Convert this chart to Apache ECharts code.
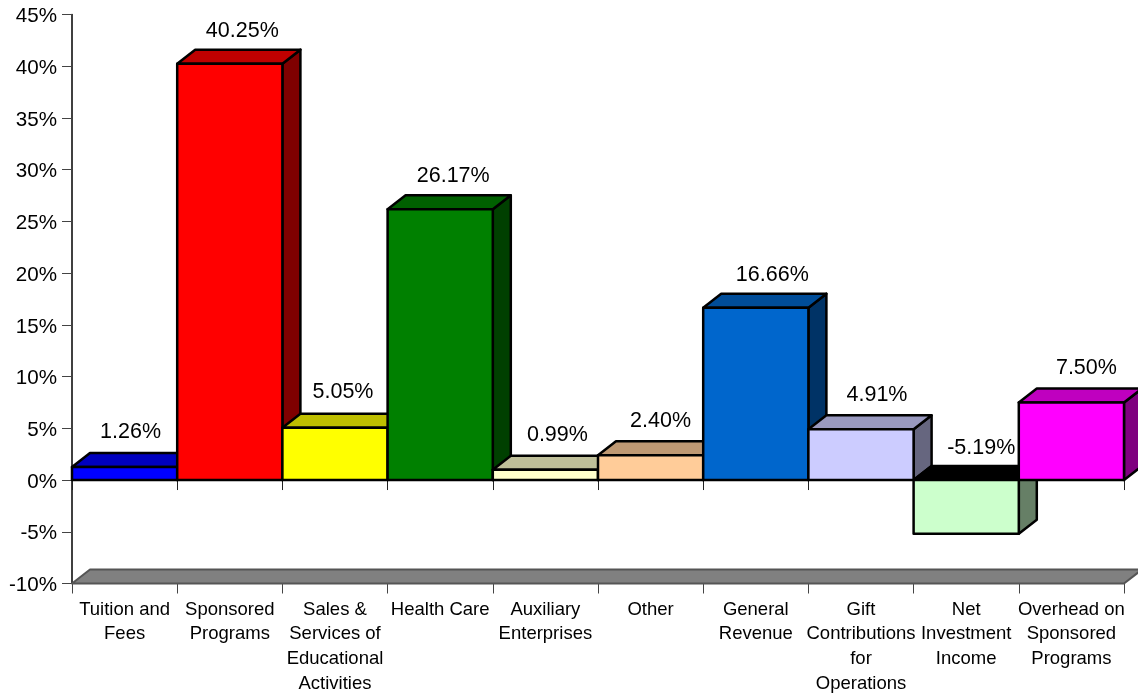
<!DOCTYPE html>
<html><head><meta charset="utf-8">
<style>html,body{margin:0;padding:0;background:#fff}#c{width:1138px;height:693px}</style>
<script src="https://cdn.jsdelivr.net/npm/echarts@6/dist/echarts.min.js"></script>
</head><body><div id="c"></div>
<script>
const categories = ['Tuition and\nFees','Sponsored\nPrograms','Sales &\nServices of\nEducational\nActivities','Health Care','Auxiliary\nEnterprises','Other','General\nRevenue','Gift\nContributions\nfor\nOperations','Net\nInvestment\nIncome','Overhead on\nSponsored\nPrograms'];
const values = [1.26,40.25,5.05,26.17,0.99,2.40,16.66,4.91,-5.19,7.50];
const frontColors = ['#0000FF','#FF0000','#FFFF00','#008000','#FFFFCC','#FFCC99','#0066CC','#CCCCFF','#CCFFCC','#FF00FF'];
const topColors = ['#0000BF','#BF0000','#BFBF00','#006000','#BFBF99','#BF9973','#004D99','#9999BF','#000000','#BF00BF'];
const sideColors = ['#00007F','#7F0000','#7F7F00','#004000','#7F7F66','#7F664D','#003366','#66667F','#667F66','#7F007F'];
const labelNudgeX = [6,12.5,8,13,12,10,16.5,16,15,15];
const labelNudgeY = [0,2,-1,2,0,1,2,1,3,1];
const DX = 18, DY = 14;
const chart = echarts.init(document.getElementById('c'), null, {renderer:'canvas'});
const font = 'Liberation Sans, Arial, sans-serif';
function poly(points, fill, stroke, w){
  return {type:'polygon', shape:{points}, style:{fill, stroke, lineWidth:w, lineJoin:'round'}};
}
chart.setOption({
  animation:false,
  backgroundColor:'#fff',
  grid:{left:72, right:14, top:14.5, bottom:109.5, containLabel:false, outerBoundsMode:'none'},
  xAxis:[
    {type:'category', position:'bottom', data:categories, boundaryGap:true,
     axisLine:{onZero:false, show:false},
     axisTick:{show:true, alignWithLabel:false, length:10, lineStyle:{color:'#444', width:1}},
     axisLabel:{interval:0, color:'#000', fontFamily:font, fontSize:18.5, lineHeight:24.6, margin:14, hideOverlap:false},
     splitLine:{show:false}},
    {type:'category', position:'top', data:categories, boundaryGap:true,
     axisLine:{onZero:true, show:true, lineStyle:{color:'#000', width:2}},
     axisTick:{show:true, inside:true, length:10, lineStyle:{color:'#222', width:1}},
     axisLabel:{show:false}, splitLine:{show:false}}
  ],
  yAxis:{type:'value', min:-10, max:45, interval:5,
    axisLine:{show:true, onZero:false, lineStyle:{color:'#000', width:1.5}},
    axisTick:{show:true, length:10, lineStyle:{color:'#444', width:1}},
    splitLine:{show:false},
    axisLabel:{color:'#000', fontFamily:font, fontSize:20.6, margin:15, formatter:v=>'{a|'+v+'%}',
      rich:{a:{color:'#000', fontFamily:font, fontSize:20.6, padding:[4,0,0,0]}}}},
  series:[
    {type:'custom', z:3, xAxisIndex:0, data:[[0,-10]], silent:true,
     renderItem(params, api){
       const cs = params.coordSys;
       const y = api.coord([0,-10])[1];
       const l = cs.x, r = cs.x+cs.width;
       return poly([[l,y],[r,y],[r+DX,y-DY],[l+DX,y-DY]],'#808080','#555',2);
     }},
    {type:'custom', z:4, xAxisIndex:0, silent:true,
     data:values.map((v,i)=>[i,v]),
     encode:{x:0,y:1},
     renderItem(params, api){
       const i = api.value(0), v = api.value(1);
       const w = api.size([1,0])[0];
       const cx = api.coord([i,0])[0];
       const y0 = api.coord([i,0])[1], yv = api.coord([i,v])[1];
       const l = cx-w/2, r = cx+w/2;
       const yTop = Math.min(y0,yv), yBot = Math.max(y0,yv);
       const children = [
         poly([[r,yTop],[r+DX,yTop-DY],[r+DX,yBot-DY],[r,yBot]], sideColors[i],'#000',2.5),
         poly([[l,yTop],[r,yTop],[r+DX,yTop-DY],[l+DX,yTop-DY]], topColors[i],'#000',2.5),
         poly([[l,yTop],[r,yTop],[r,yBot],[l,yBot]], frontColors[i],'#000',2.5),
         {type:'text', style:{text:v.toFixed(2)+'%', x:cx+labelNudgeX[i], y:yTop-DY-21+labelNudgeY[i],
            fill:'#000', font:'21.5px '+font, align:'center', verticalAlign:'middle'}}
       ];
       return {type:'group', children};
     }}
  ]
});
</script></body></html>
